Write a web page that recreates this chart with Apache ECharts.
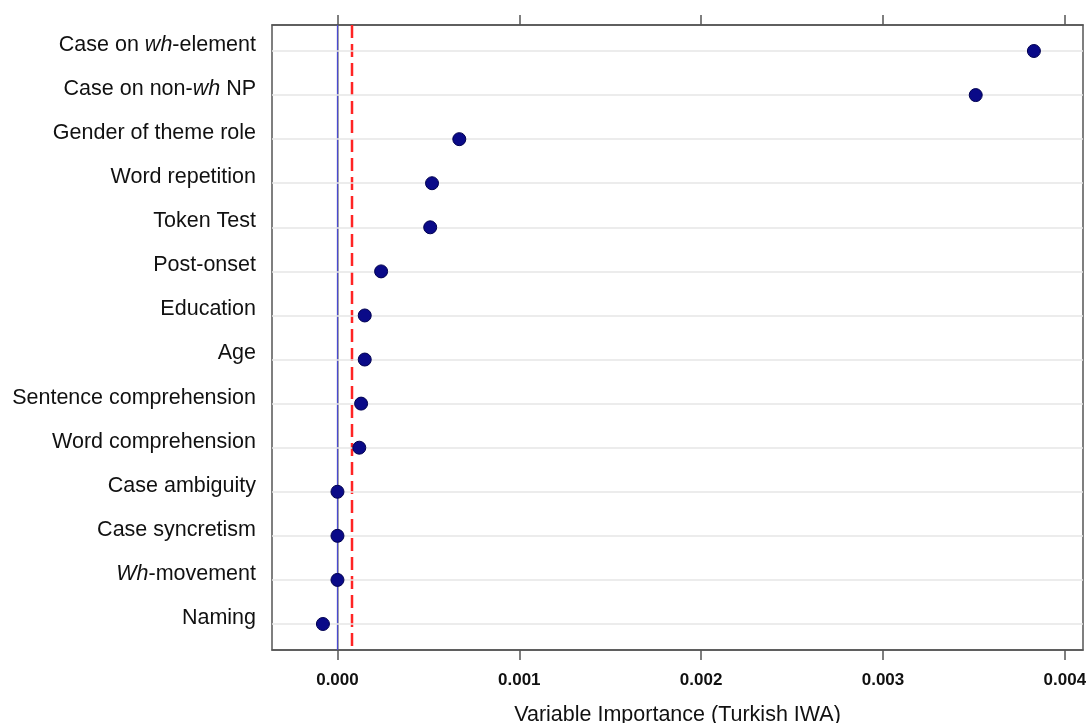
<!DOCTYPE html>
<html>
<head>
<meta charset="utf-8">
<script src="https://cdn.jsdelivr.net/npm/echarts@6/dist/echarts.min.js"></script>
<style>
	html, body { margin: 0; padding: 0; background: #fff; }
	#main { width: 1086px; height: 723px; }
</style>
</head>
<body>
<div id="main"></div>
<script>
// variable names, top to bottom (*...* = italic part)
var variables = [
	'Case on *wh*-element',
	'Case on non-*wh* NP',
	'Gender of theme role',
	'Word repetition',
	'Token Test',
	'Post-onset',
	'Education',
	'Age',
	'Sentence comprehension',
	'Word comprehension',
	'Case ambiguity',
	'Case syncretism',
	'*Wh*-movement',
	'Naming'
];
// variable importance values
var importance = [0.00383, 0.00351, 0.00067, 0.00052, 0.00051, 0.00024, 0.00015,
	0.00015, 0.00013, 0.00012, 0.0, 0.0, 0.0, -0.00008];
var xTicks = [0, 0.001, 0.002, 0.003, 0.004];
var cutoff = 0.00008; // red dashed line = |lowest importance|

var rows = [];
for (var i = 0; i < variables.length; i++) rows.push(i + 1);

// build rich text label, *x* -> italic
function richLabel(s) {
	var parts = s.split('*');
	var out = '';
	for (var k = 0; k < parts.length; k++) {
		if (parts[k] === '') continue;
		out += (k % 2 === 1 ? '{i|' : '{n|') + parts[k] + '}';
	}
	return out;
}

var dots = [];
for (var i = 0; i < importance.length; i++) dots.push([importance[i], rows[i]]);

var gridLines = [];
for (var i = 0; i < rows.length; i++) gridLines.push({ yAxis: rows[i] });

var myChart = echarts.init(document.getElementById('main'));
var labelFont = 'Liberation Sans, Arial, Helvetica, sans-serif';
var yMin = 0.41, yMax = 14.59;
var option = {
	animation: false,
	grid: {
		left: 272,
		right: 3,
		top: 25,
		bottom: 73,
		outerBoundsMode: 'none',
		containLabel: false,
		show: true,
		borderColor: '#555',
		borderWidth: 1.5
	},
	xAxis: [{
		type: 'value',
		min: -0.00036,
		max: 0.0041,
		name: 'Variable Importance (Turkish IWA)',
		nameLocation: 'middle',
		nameGap: 54,
		nameTextStyle: { fontFamily: labelFont, fontSize: 21.5, color: '#111' },
		axisLine: { lineStyle: { color: '#555', width: 1.5 } },
		axisTick: { show: true, length: 10, customValues: xTicks, lineStyle: { color: '#555', width: 1.5 } },
		axisLabel: {
			customValues: xTicks,
			formatter: function (v) { return v.toFixed(3); },
			fontFamily: labelFont,
			fontSize: 17,
			fontWeight: 'bold',
			color: '#111',
			margin: 22
		},
		splitLine: { show: false }
	}, {
		type: 'value',
		position: 'top',
		min: -0.00036,
		max: 0.0041,
		axisLine: { lineStyle: { color: '#555', width: 1.5 } },
		axisTick: { show: true, length: 10, customValues: xTicks, lineStyle: { color: '#555', width: 1.5 } },
		axisLabel: { show: false },
		splitLine: { show: false }
	}],
	yAxis: {
		type: 'value',
		inverse: true,
		min: yMin,
		max: yMax,
		axisLine: { show: true, lineStyle: { color: '#888', width: 1.5 } },
		axisTick: { show: false },
		splitLine: { show: false },
		axisLabel: {
			customValues: rows,
			margin: 16,
			padding: [0, 0, 12, 0],
			formatter: function (v) {
				var idx = Math.round(v) - 1;
				return richLabel(variables[idx]);
			},
			rich: {
				n: { fontFamily: labelFont, fontSize: 21.5, color: '#111' },
				i: { fontFamily: labelFont, fontSize: 21.5, color: '#111', fontStyle: 'italic' }
			}
		}
	},
	series: [{
		// horizontal guide lines, one per variable
		type: 'scatter',
		data: dots,
		symbolSize: 0,
		z: 1,
		silent: true,
		markLine: {
			silent: true,
			symbol: 'none',
			label: { show: false },
			lineStyle: { color: '#e6e6e6', width: 1.5, type: 'solid' },
			data: gridLines
		}
	}, {
		// zero line
		type: 'line',
		z: 2,
		silent: true,
		symbol: 'none',
		lineStyle: { color: '#4a4ad0', width: 1.2 },
		data: [[0, yMin], [0, yMax]]
	}, {
		// cutoff line
		type: 'line',
		z: 2,
		silent: true,
		symbol: 'none',
		lineStyle: { color: '#ff2424', width: 2.5, type: [13, 6] },
		data: [[cutoff, yMin], [cutoff, yMax]]
	}, {
		type: 'scatter',
		z: 5,
		symbolSize: 13,
		itemStyle: { color: '#0a0a88', borderColor: '#000050', borderWidth: 1, opacity: 1 },
		data: dots
	}]
};
myChart.setOption(option);
</script>
</body>
</html>
